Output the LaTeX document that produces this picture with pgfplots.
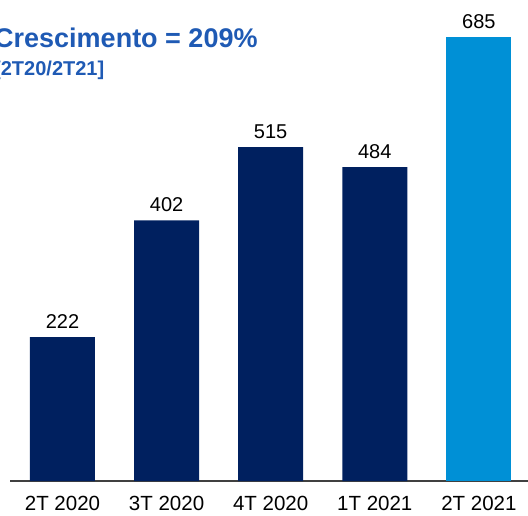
\documentclass[border=0pt]{standalone}
\usepackage{pgfplots}
\pgfplotsset{compat=1.18}
\usepackage{fontspec}
\setmainfont{Liberation Sans}
\definecolor{navy}{HTML}{00205F}
\definecolor{lblue}{HTML}{0090D6}
\definecolor{ttl}{HTML}{1F5AB4}
\begin{document}
\begin{tikzpicture}
\useasboundingbox (0pt,0pt) rectangle (528pt,515pt);
\clip (0pt,0pt) rectangle (528pt,515pt);
\begin{axis}[at={(10pt,34pt)}, anchor=south west, scale only axis,
  width=518pt, height=481pt,
  xmin=-0.504, xmax=4.472, ymin=0, ymax=742,
  axis x line=bottom, axis y line=none,
  x axis line style={-, draw=black!75, line width=1.5pt},
  xtick={0,...,4}, xticklabels={2T 2020,3T 2020,4T 2020,1T 2021,2T 2021},
  major tick length=0pt,
  xticklabel style={font=\fontsize{20.5}{24}\selectfont, yshift=-12pt},
  /pgf/number format/assume math mode=true,
  ybar, bar width=65pt, bar shift=0pt,
  nodes near coords,
  every node near coord/.append style={font=\fontsize{20}{24}\selectfont, text=black, yshift=5pt},
  clip=false,
]
\addplot[fill=navy, draw=none] coordinates {(0,222) (1,402) (2,515) (3,484)};
\addplot[fill=lblue, draw=none] coordinates {(4,685)};
\end{axis}
\node[anchor=base west, text=ttl, font=\bfseries\fontsize{27}{30}\selectfont, inner sep=0pt] at (-6pt,467pt) {Crescimento = 209\%};
\node[anchor=base west, text=ttl, font=\bfseries\fontsize{20}{24}\selectfont, inner sep=0pt] at (-6pt,439pt) {[2T20/2T21]};
\end{tikzpicture}
\end{document}
